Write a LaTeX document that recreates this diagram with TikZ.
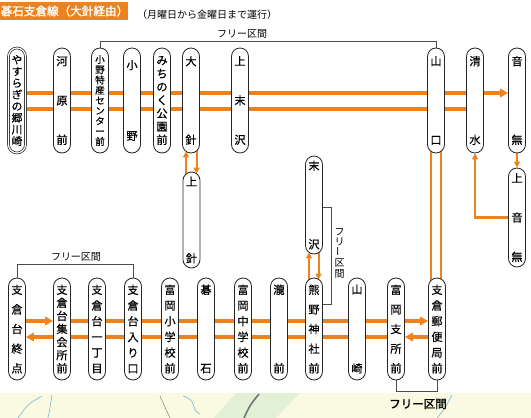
\documentclass[tikz,border=0pt]{standalone}
\usepackage{fontspec}
\setmainfont{Noto Sans CJK JP}
\newfontfamily\jpbold[FakeBold=1.6]{Noto Sans CJK JP}
\newfontfamily\jpmid[FakeBold=0.5]{Noto Sans CJK JP}
\usetikzlibrary{arrows.meta,backgrounds}
\definecolor{orng}{RGB}{238,130,28}
\definecolor{mapbg}{RGB}{250,250,226}
\definecolor{mapgreen}{RGB}{226,240,214}
\definecolor{mapblue}{RGB}{120,180,210}
\newcommand\vs{\par\vfill}
\newcommand\vtxt[2]{\parbox[c][#1][s]{14pt}{\centering #2}}
\tikzset{
  pill/.style={draw=black!85, line width=0.8pt, fill=white, rounded corners=8.5pt,
    minimum width=17pt, inner sep=0pt, font=\jpmid\fontsize{11.2}{11.2}\selectfont},
  toprow/.style={pill, minimum height=105pt},
  botrow/.style={pill, minimum height=102pt},
  oline/.style={draw=orng, line width=3.6pt},
  otip/.style={-{Triangle[length=8pt,width=8.5pt]}},
  varr/.style={draw=orng, line width=2pt, -{Triangle[length=6pt,width=6pt]}},
  vline/.style={draw=orng, line width=2pt},
  brk/.style={draw=black!70, line width=0.7pt},
  lbl/.style={inner sep=0pt, font=\fontsize{10}{10.5}\selectfont}
}
\begin{document}
\begin{tikzpicture}[x=1pt,y=-1pt]
\useasboundingbox (0,0) rectangle (531,418);

% title
\fill[orng] (0,2) rectangle (128,20);
\node[anchor=west, inner sep=0pt, text=white, font=\jpbold\fontsize{11.6}{12}\selectfont] (title) at (0.5,11) {碁石支倉線（大針経由）};
\node[anchor=west, lbl] (sub) at (137,15) {（月曜日から金曜日まで運行）};

% top row
\node[toprow, double=white, double distance=1.2pt, line width=0.7pt, font=\jpmid\fontsize{10.8}{10.8}\selectfont] (A1) at (17,100.5) {\vtxt{90pt}{や\vs す\vs ら\vs ぎ\vs の\vs 郷\vs 川\vs 崎}};
\node[toprow] (A2) at (62,100.5) {\vtxt{88pt}{河\vs 原\vs 前}};
\node[toprow, font=\jpmid\fontsize{9.6}{9.9}\selectfont] (A3) at (100,100.5) {\vtxt{90pt}{小\vs 野\vs 特\vs 産\vs セ\vs ン\vs タ\vs ー\vs 前}};
\node[toprow] (A4) at (132,100.5) {\vtxt{80pt}{小\vs 野}};
\node[toprow] (A5) at (162,100.5) {\vtxt{88pt}{み\vs ち\vs の\vs く\vs 公\vs 園\vs 前}};
\node[toprow] (A6) at (191,100.5) {\vtxt{88pt}{大\vs 針}};
\node[toprow] (A7) at (240,100.5) {\vtxt{88pt}{上\vs 末\vs 沢}};
\node[toprow] (A8) at (436,100.5) {\vtxt{88pt}{山\vs 口}};
\node[toprow] (A9) at (475,100.5) {\vtxt{88pt}{清\vs 水}};
\node[toprow] (A10) at (517,100.5) {\vtxt{88pt}{音\vs 無}};

% middle
\node[pill, minimum height=96pt] (B1) at (191.5,220) {\vtxt{86pt}{上\vs 針}};
\node[pill, minimum height=98pt] (B2) at (314,205) {\vtxt{88pt}{末\vs 沢}};
\node[pill, minimum height=99pt] (B3) at (517,217.5) {\vtxt{88pt}{上\vs 音\vs 無}};

% bottom row
\node[botrow] (C1) at (17,329) {\vtxt{88pt}{支\vs 倉\vs 台\vs 終\vs 点}};
\node[botrow] (C2) at (62,329) {\vtxt{88pt}{支\vs 倉\vs 台\vs 集\vs 会\vs 所\vs 前}};
\node[botrow] (C3) at (97,329) {\vtxt{88pt}{支\vs 倉\vs 台\vs 一\vs 丁\vs 目}};
\node[botrow] (C4) at (133,329) {\vtxt{88pt}{支\vs 倉\vs 台\vs 入\vs り\vs 口}};
\node[botrow] (C5) at (170,329) {\vtxt{88pt}{富\vs 岡\vs 小\vs 学\vs 校\vs 前}};
\node[botrow] (C6) at (206,329) {\vtxt{88pt}{碁\vs 石}};
\node[botrow] (C7) at (243,329) {\vtxt{88pt}{富\vs 岡\vs 中\vs 学\vs 校\vs 前}};
\node[botrow] (C8) at (279,329) {\vtxt{88pt}{瀧\vs 前}};
\node[botrow] (C9) at (314,329) {\vtxt{88pt}{熊\vs 野\vs 神\vs 社\vs 前}};
\node[botrow] (C10) at (357,329) {\vtxt{88pt}{山\vs 崎}};
\node[botrow] (C11) at (396,329) {\vtxt{88pt}{富\vs 岡\vs 支\vs 所\vs 前}};
\node[botrow] (C12) at (437,329) {\vtxt{88pt}{支\vs 倉\vs 郵\vs 便\vs 局\vs 前}};

% helper coordinates
\coordinate (yT1) at (0,93);
\coordinate (yT2) at (0,109);
\coordinate (yB1) at (0,321);
\coordinate (yB2) at (0,337);
\coordinate (h1) at (0,41);
\coordinate (h2) at (0,264);
\coordinate (h3) at (331,207);
\coordinate (h4) at (331,304);
\coordinate (h5) at (0,391);

% free-section brackets
\draw[brk] (A3.north) -- (A3.north |- h1) -- (A8.north |- h1) -- (A8.north);
\node[lbl] (fl1) at (242,34) {フリー区間};
\draw[brk] (C1.north) -- (C1.north |- h2) -- (C4.north |- h2) -- (C4.north);
\node[lbl] (fl2) at (76,257) {フリー区間};
\draw[brk] (B2.east |- h3) -- (h3) -- (h4) -- (C9.east |- h4);
\node[lbl] (fl3) at (339.5,253) {\parbox{10pt}{\centering フ\\リ\\\rotatebox{90}{ー}\\区\\間}};
\draw[brk] (C11.south) -- (C11.south |- h5) -- (C12.south |- h5) -- (C12.south);
\node[inner sep=0pt, font=\jpbold\fontsize{11.5}{12}\selectfont] (fl4) at (418,404) {フリー区間};

\begin{pgfonlayer}{background}
  \fill[white] (0,0) rectangle (531,418);
  % map remnants
  \fill[mapbg] (0,393) rectangle (531,418);
  \fill[mapgreen] (214,418) -- (236,393) -- (300,393) -- (276,418) -- cycle;
  \draw[black!55, line width=1.6pt] (244,418) .. controls (250,405) .. (259,394);
  \draw[mapblue, line width=0.6pt] (18,418) .. controls (28,404) .. (42,396);
  \draw[mapblue, line width=0.6pt] (48,418) .. controls (50,408) .. (52,395);
  \draw[black!50, line width=0.5pt] (160,396) .. controls (164,405) .. (170,418);
  \draw[mapblue, line width=0.6pt] (183,396) .. controls (198,400) and (190,410) .. (200,414);
  \draw[mapblue, line width=0.6pt] (437,418) .. controls (444,410) .. (452,395);
  % top line pair
  \draw[oline, otip] (A1.east |- yT1) -- (A10.west |- yT1);
  \draw[oline] (A1.east |- yT2) -- (A9.west |- yT2);
  % bottom line pair
  \draw[oline, otip] (C1.east |- yB1) -- (C2.west |- yB1);
  \draw[oline, otip] (C2.east |- yB1) -- (C12.west |- yB1);
  \draw[oline, otip] (C12.west |- yB2) -- (C11.east |- yB2);
  \draw[oline, otip] (C11.west |- yB2) -- (C1.east |- yB2);
  % vertical links
  \draw[varr] ([xshift=-5.5pt,yshift=-3pt]B1.north) -- ([xshift=-5.5pt,yshift=2pt]B1.north |- A6.south);
  \draw[varr] ([xshift=5.5pt,yshift=3pt]A6.south) -- ([xshift=5.5pt,yshift=-2pt]A6.south |- B1.north);
  \draw[varr] ([xshift=-5pt,yshift=-3pt]B2.south |- C9.north) -- ([xshift=-5pt,yshift=2pt]B2.south);
  \draw[varr] ([xshift=4.5pt,yshift=3pt]B2.south) -- ([xshift=4.5pt,yshift=-2pt]B2.south |- C9.north);
  \draw[varr] (A10.south) -- (B3.north);
  \draw[varr, line width=2.6pt] (B3.west) -| (A9.south);
  \draw[vline] ([xshift=-5pt,yshift=3pt]A8.south) -- ([xshift=-5pt,yshift=-3pt]A8.south |- C12.north);
  \draw[vline] ([xshift=5pt,yshift=3pt]A8.south) -- ([xshift=5pt,yshift=-3pt]A8.south |- C12.north);
\end{pgfonlayer}
\end{tikzpicture}
\end{document}
